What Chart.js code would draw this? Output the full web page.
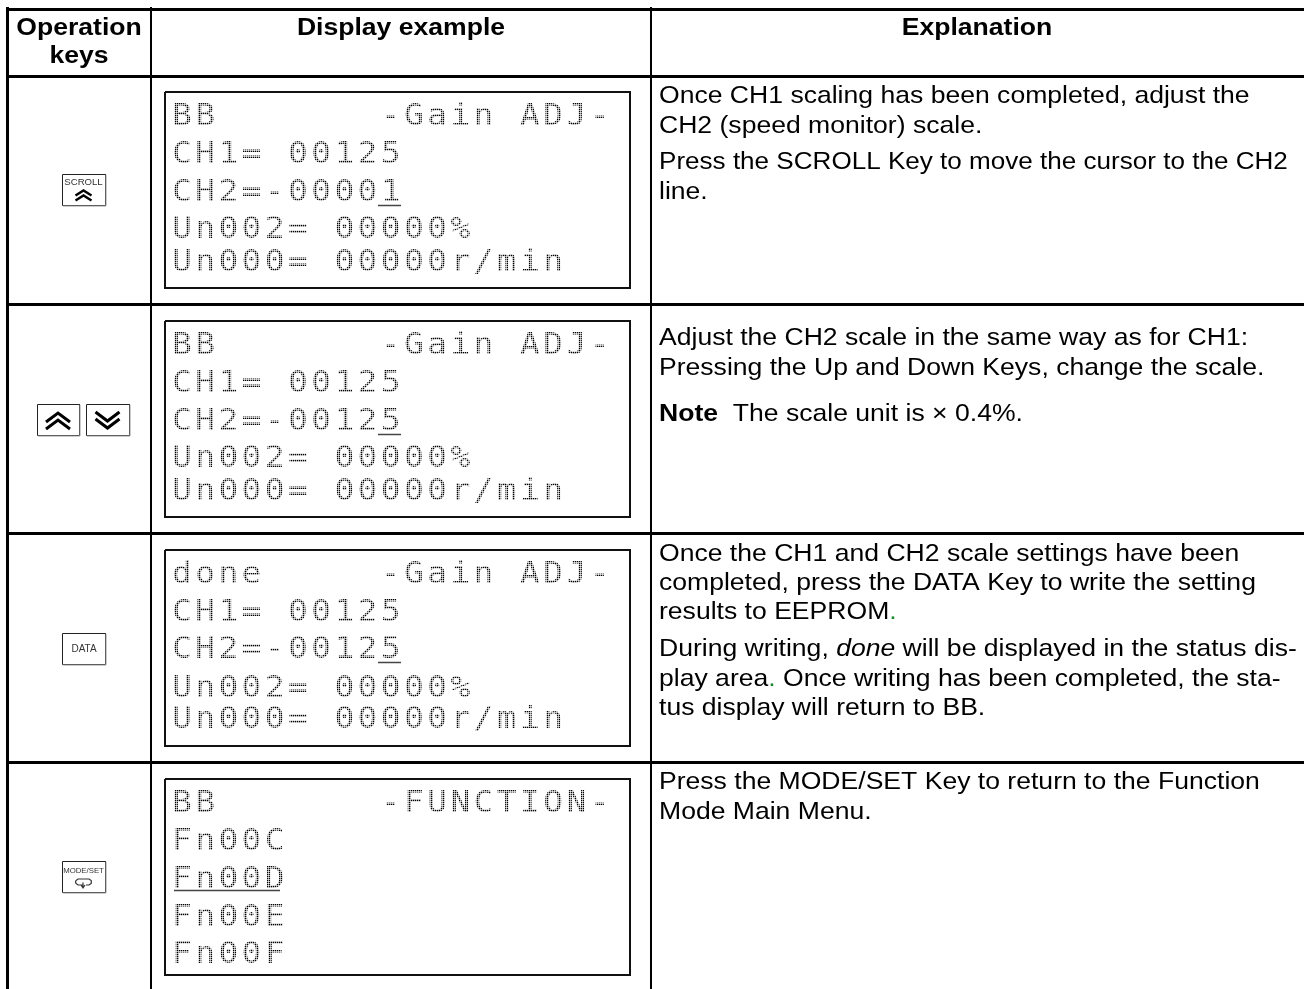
<!DOCTYPE html>
<html>
<head>
<meta charset="utf-8">
<style>
  html, body { margin: 0; padding: 0; background: #fff; overflow: hidden; }
  canvas { display: block; }
</style>
<script src="https://cdn.jsdelivr.net/npm/chart.js@4"></script>
</head>
<body>
<canvas id="chart-js" width="1304" height="989"></canvas>
<script>
// table content
const headers = [['Operation', 'keys'], ['Display example'], ['Explanation']];
const keyLabels = ['SCROLL', null, 'DATA', 'MODE/SET'];

const lcdRow1 = ['BB       -Gain ADJ-', 'CH1= 00125', 'CH2=-00001', 'Un002= 00000%', 'Un000= 00000r/min'];
const lcdRow2 = ['BB       -Gain ADJ-', 'CH1= 00125', 'CH2=-00125', 'Un002= 00000%', 'Un000= 00000r/min'];
const lcdRow3 = ['done     -Gain ADJ-', 'CH1= 00125', 'CH2=-00125', 'Un002= 00000%', 'Un000= 00000r/min'];
const lcdRow4 = ['BB       -FUNCTION-', 'Fn00C', 'Fn00D', 'Fn00E', 'Fn00F'];

// each explanation line is a list of runs, [text, style]
const textRow1 = [
    [['Once CH1 scaling has been completed, adjust the']],
    [['CH2 (speed monitor) scale.']],
    [['Press the SCROLL Key to move the cursor to the CH2', 'tight']],
    [['line.']]
];
const textRow2 = [
    [['Adjust the CH2 scale in the same way as for CH1:']],
    [['Pressing the Up and Down Keys, change the scale.']],
    [['Note', 'bold'], ['  The scale unit is × 0.4%.']]
];
const textRow3 = [
    [['Once the CH1 and CH2 scale settings have been']],
    [['completed, press the DATA Key to write the setting']],
    [['results to EEPROM'], ['.', 'green']],
    [['During writing, '], ['done', 'italic'], [' will be displayed in the status dis-']],
    [['play area'], ['.', 'green'], [' Once writing has been completed, the sta-']],
    [['tus display will return to BB.']]
];
const textRow4 = [
    [['Press the MODE/SET Key to return to the Function']],
    [['Mode Main Menu.']]
];

// layout
const colEdges = [7, 151, 651];
const rowEdges = [9, 76, 304, 533, 762];
const lcdTops = [92, 321, 550, 779];
const lcdHeight = 196;
const lcdBaselines = [
    [33, 71, 109, 146, 179],
    [33, 71, 109, 146, 179],
    [33, 71, 108, 147, 178],
    [33, 71, 109, 147, 184]
];
const textBaselines = [
    [103, 133, 169, 199],
    [345, 375, 421],
    [561, 590, 619, 656, 686, 715],
    [789, 819]
];
const textX = 659, lcdX = 173, lcdPitch = 23.2;
const capTops = [174, 404, 633, 861];
const textStretch = 1.08, lcdStretch = 1.1;

const FONT = '"Liberation Sans", Arial, sans-serif';

function polyline(points, color, width) {
    return {
        data: points.map(p => p ? { x: p[0], y: p[1] } : { x: null, y: null }),
        showLine: true, pointRadius: 0, borderColor: color, borderWidth: width,
        borderJoinStyle: 'miter', spanGaps: false, tension: 0
    };
}
function rect(x0, y0, x1, y1, color, width) {
    return polyline([[x0, y0], [x1, y0], [x1, y1], [x0, y1], [x0, y0]], color, width);
}
function cap(x0, x1, top) {
    const y1 = top + 31;
    return [
        polyline([[x0 + 1, y1 + 1], [x1 + 1, y1 + 1], [x1 + 1, top + 1]], '#9a9a9a', 1),
        rect(x0 + 0.5, top + 0.5, x1 + 0.5, y1 + 0.5, '#222', 1)
    ];
}
function chevron(cx, apex, half, rise, dir, width) {
    return polyline([[cx - half, apex + dir * rise], [cx, apex], [cx + half, apex + dir * rise]], '#000', width);
}

const datasets = [];
lcdTops.forEach(top => {
    datasets.push(rect(165, top, 630, top + lcdHeight, '#111', 2));
});
// cursors
datasets.push(polyline([[378, 205.5], [401, 205.5]], '#444', 1.5));
datasets.push(polyline([[378, 434.5], [401, 434.5]], '#444', 1.5));
datasets.push(polyline([[378, 662.5], [401, 662.5]], '#444', 1.5));
datasets.push(polyline([[174, 890.5], [280, 890.5]], '#444', 1.5));
// key caps
datasets.push(...cap(62, 105, capTops[0]));
datasets.push(...cap(37, 79, capTops[1]));
datasets.push(...cap(86, 129, capTops[1]));
datasets.push(...cap(62, 105, capTops[2]));
datasets.push(...cap(62, 105, capTops[3]));
// chevrons
datasets.push(chevron(83.5, 190.5, 8, 5, 1, 2.4), chevron(83.5, 195.5, 8, 5, 1, 2.4));
datasets.push(chevron(58, 413, 12, 9, 1, 3), chevron(58, 420, 12, 9, 1, 3));
datasets.push(chevron(107.5, 428, 12, 9, -1, 3), chevron(107.5, 421, 12, 9, -1, 3));
// return arrow of the MODE/SET key
datasets.push(polyline([[86, 885], [89, 885], [91, 883.5], [91.5, 882], [91, 880.5], [89, 879], [78, 879], [76, 880.5], [75.5, 882],
    [76, 883.5], [78, 885], [83, 885], null, [83, 882.5], [83, 888], null, [81, 885], [83, 888], [85, 885]], '#333', 1.2));

function stretched(ctx, text, x, y, sx) {
    ctx.save();
    ctx.translate(x, y);
    ctx.scale(sx, 1);
    ctx.fillText(text, 0, 0);
    ctx.restore();
}
function drawRuns(ctx, runs, x, y) {
    runs.forEach(([text, style]) => {
        const stretch = style === 'tight' ? 1.06 : textStretch;
        ctx.font = (style === 'bold' ? 'bold ' : style === 'italic' ? 'italic ' : '') + '24.6px ' + FONT;
        ctx.fillStyle = style === 'green' ? '#1a8a2a' : '#000';
        stretched(ctx, text, x, y, stretch);
        x += ctx.measureText(text).width * stretch;
    });
}

const tablePlugin = {
    id: 'tablePlugin',
    // LCD text goes under the datasets, so boxes and cursors stay on top of the screen
    beforeDatasetsDraw(chart) {
        const { ctx, scales: { x: sx, y: sy } } = chart;
        const px = v => sx.getPixelForValue(v), py = v => sy.getPixelForValue(v);
        ctx.save();
        ctx.textBaseline = 'alphabetic';
        ctx.textAlign = 'left';
        [lcdRow1, lcdRow2, lcdRow3, lcdRow4].forEach((lines, r) => {
            const top = lcdTops[r];
            ctx.fillStyle = '#000';
            ctx.font = '30px "DejaVu Sans Mono", monospace';
            ctx.letterSpacing = (lcdPitch / lcdStretch - 18.06) + 'px';
            lines.forEach((line, i) => stretched(ctx, line, px(lcdX - 1), py(top + lcdBaselines[r][i]), lcdStretch));
            ctx.letterSpacing = '0px';
            // white screen over the text for the dot look
            ctx.fillStyle = 'rgba(255,255,255,0.65)';
            for (let x = 168; x < 628; x += 2) ctx.fillRect(px(x), py(top + 2), 1, lcdHeight - 4);
            for (let y = top + 2; y < top + lcdHeight - 2; y += 2) ctx.fillRect(px(167), py(y), 461, 1);
        });
        ctx.restore();
    },
    afterDatasetsDraw(chart) {
        const { ctx, scales: { x: sx, y: sy } } = chart;
        const px = v => sx.getPixelForValue(v), py = v => sy.getPixelForValue(v);
        ctx.save();
        ctx.textBaseline = 'alphabetic';

        // headers
        ctx.font = 'bold 24.6px ' + FONT;
        ctx.fillStyle = '#000';
        ctx.textAlign = 'center';
        stretched(ctx, headers[0][0], px(79), py(35), textStretch);
        stretched(ctx, headers[0][1], px(79), py(63), textStretch);
        stretched(ctx, headers[1][0], px(401), py(35), textStretch);
        stretched(ctx, headers[2][0], px(977), py(35), textStretch);

        // key caps
        ctx.fillStyle = '#333';
        ctx.font = '9.6px ' + FONT;
        ctx.fillText(keyLabels[0], px(83.5), py(185));
        ctx.font = '10px ' + FONT;
        ctx.fillText(keyLabels[2], px(84), py(652));
        ctx.font = '7.8px ' + FONT;
        ctx.fillText(keyLabels[3], px(83.5), py(873));

        // explanations
        ctx.textAlign = 'left';
        [textRow1, textRow2, textRow3, textRow4].forEach((lines, r) => {
            lines.forEach((runs, i) => drawRuns(ctx, runs, px(textX), py(textBaselines[r][i])));
        });
        ctx.restore();
    }
};

new Chart(document.getElementById('chart-js'), {
    type: 'scatter',
    data: { datasets },
    options: {
        responsive: false,
        animation: false,
        events: [],
        layout: { padding: { top: 7, left: 6 } },
        plugins: { legend: { display: false }, tooltip: { enabled: false }, title: { display: false } },
        scales: {
            x: {
                type: 'linear', min: 6, max: 1304,
                ticks: { display: false },
                border: { display: false },
                grid: { color: '#000', drawTicks: false, lineWidth: c => c.index === 0 ? 3 : 2 },
                afterBuildTicks: s => { s.ticks = colEdges.map(value => ({ value })); }
            },
            y: {
                type: 'linear', min: 7, max: 989, reverse: true,
                ticks: { display: false },
                border: { display: false },
                grid: { color: '#000', drawTicks: false, lineWidth: 3 },
                afterBuildTicks: s => { s.ticks = rowEdges.map(value => ({ value })); }
            }
        }
    },
    plugins: [tablePlugin]
});
</script>
</body>
</html>
